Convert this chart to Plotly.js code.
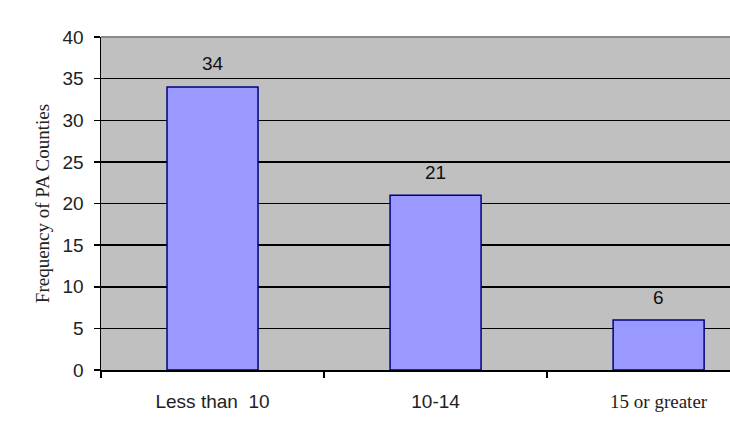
<!DOCTYPE html>
<html>
<head>
<meta charset="utf-8">
<script src="https://cdn.plot.ly/plotly-3.0.1.min.js"></script>
<style>
html,body{margin:0;padding:0;background:#fff;}
#chart{width:730px;height:433px;}
</style>
</head>
<body>
<div id="chart"></div>
<script>
const categories = ["Less than 10", "10-14", "15 or greater"];
const tickLabels = [
  "Less than  10",
  "10-14",
  "<span style=\"font-family:'Liberation Serif','Times New Roman',serif\">15 or greater</span>"
];
const frequencies = [34, 21, 6];
const yTicks = [0, 5, 10, 15, 20, 25, 30, 35, 40];

const trace = {
  type: "bar",
  x: categories,
  y: frequencies,
  marker: {color: "#9999ff", line: {color: "#000080", width: 1.5}},
  hoverinfo: "skip"
};

const annotations = categories.map((c, i) => ({
  x: c, y: frequencies[i], xref: "x", yref: "y",
  text: String(frequencies[i]), showarrow: false,
  yanchor: "middle", yshift: 23,
  font: {family: "Liberation Sans, Arial, sans-serif", size: 19, color: "#111"}
}));

const layout = {
  width: 730, height: 433,
  margin: {l: 101, r: 0, t: 37, b: 63, pad: 0},
  paper_bgcolor: "#ffffff",
  plot_bgcolor: "#c0c0c0",
  showlegend: false,
  bargap: 0.592,
  xaxis: {
    type: "category",
    range: [-0.5, 2.32],
    tickmode: "array",
    tickvals: categories,
    ticktext: tickLabels,
    tickson: "boundaries",
    ticks: "outside", ticklen: 6, tickcolor: "#000", tickwidth: 1.5,
    showline: true, linecolor: "#000", linewidth: 1.5,
    showgrid: false, zeroline: false,
    ticklabelstandoff: 14,
    tickfont: {family: "Liberation Sans, Arial, sans-serif", size: 19, color: "#222"}
  },
  yaxis: {
    range: [0, 40],
    tickmode: "array",
    tickvals: yTicks,
    ticktext: yTicks.map(String),
    ticks: "outside", ticklen: 6, tickcolor: "#000", tickwidth: 1.5,
    showline: true, linecolor: "#000", linewidth: 1.5,
    showgrid: true, gridcolor: "#000", gridwidth: 1.5,
    zeroline: false,
    ticklabelstandoff: 6,
    tickfont: {family: "Liberation Sans, Arial, sans-serif", size: 19, color: "#222"},
    title: {
      text: "Frequency of PA Counties",
      font: {family: "Liberation Serif, Times New Roman, serif", size: 19, color: "#222"},
      standoff: 8
    }
  },
  shapes: [{
    type: "line", xref: "paper", yref: "paper",
    x0: 0, x1: 1, y0: 1, y1: 1,
    line: {color: "#8a8a8a", width: 2}, layer: "above"
  }],
  annotations: annotations
};

Plotly.newPlot("chart", [trace], layout, {displayModeBar: false, staticPlot: true});
</script>
</body>
</html>
